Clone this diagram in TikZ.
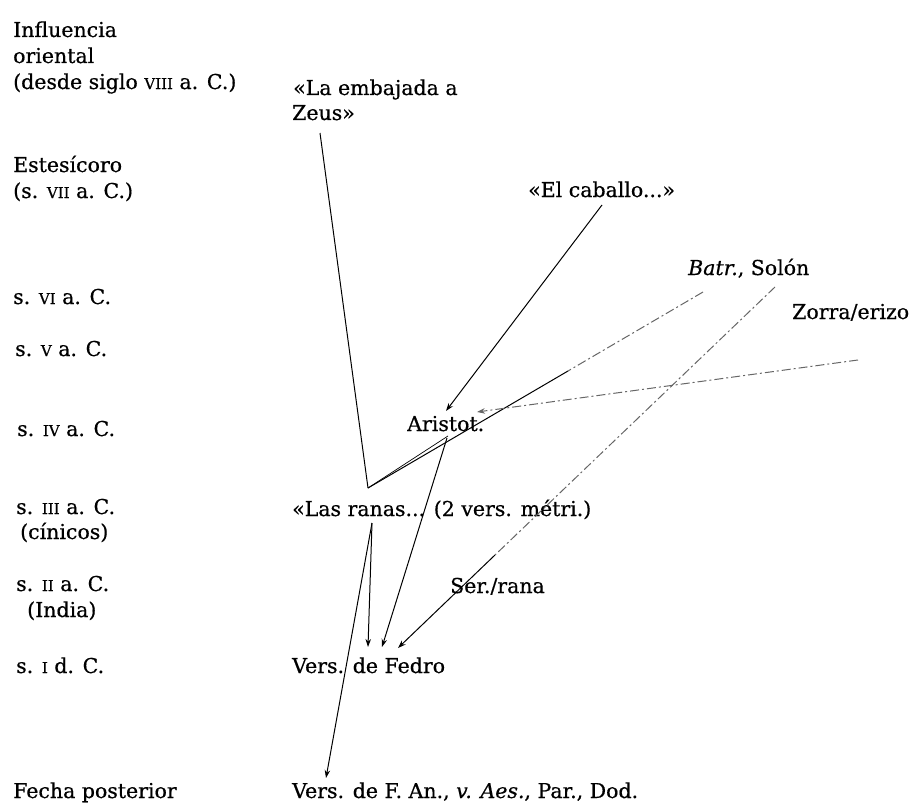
\documentclass[tikz,border=0pt]{standalone}
\usepackage{fontspec}
\setmainfont{DejaVu Serif}[UprightFeatures={FakeBold=0.6}, ItalicFeatures={FakeBold=0.6}]
\usetikzlibrary{arrows.meta}
\newcommand{\rmnum}[1]{{\fontsize{15}{15}\selectfont #1}}
\tikzset{
  txt/.style={anchor=base west, inner sep=0pt, font=\fontsize{20.5}{25}\selectfont},
  conn/.style={line width=1pt, black},
  arr/.style={conn, -{Stealth[length=8pt,width=5.5pt]}},
  dsh/.style={line width=1pt, black!60, dash pattern=on 9pt off 3pt on 2pt off 3pt},
}
\begin{document}
\begin{tikzpicture}[x=1pt,y=-1pt]
\useasboundingbox (0,0) rectangle (922,808);
% left column
\node[txt] (l1) at (13,37) {Influencia};
\node[txt] (l2) at (13,63) {oriental};
\node[txt] (l3) at (13,89) {(desde siglo \rmnum{VIII} a. C.)};
\node[txt] (l4) at (13,172) {Estesícoro};
\node[txt] (l5) at (13,198) {(s. \rmnum{VII} a. C.)};
\node[txt] (l6) at (13,304) {s. \rmnum{VI} a. C.};
\node[txt] (l7) at (15,356) {s. \rmnum{V} a. C.};
\node[txt] (l8) at (17,436) {s. \rmnum{IV} a. C.};
\node[txt] (l9) at (16,514) {s. \rmnum{III} a. C.};
\node[txt] (l10) at (20,539) {(cínicos)};
\node[txt] (l11) at (16,591) {s. \rmnum{II} a. C.};
\node[txt] (l12) at (27,617) {(India)};
\node[txt] (l13) at (16,673) {s. \rmnum{I} d. C.};
\node[txt] (l14) at (13,798) {Fecha posterior};
% right column
\node[txt] (emb) at (293,95) {«La embajada a};
\node[txt] (zeus) at (292,120) {Zeus»};
\node[txt] (cab) at (528,197) {«El caballo...»};
\node[txt] (batr) at (688,275) {\textit{Batr.}, Solón};
\node[txt] (zor) at (792,319) {Zorra/erizo};
\node[txt] (ari) at (407,431) {Aristot.};
\node[txt] (ran) at (292,516) {«Las ranas... (2 vers. métri.)};
\node[txt] (ser) at (450,593) {Ser./rana};
\node[txt] (fed) at (292,673) {Vers. de Fedro};
\node[txt] (ann) at (292,798) {Vers. de F. An., \textit{v. Aes.}, Par., Dod.};
% connector points
\coordinate (zeusS) at (320,133);
\coordinate (v) at (368,488);
\coordinate (batrS) at (703,292);
\coordinate (batrM) at (568,371);
\coordinate (ariS) at (448,436);
\coordinate (ariS2) at (447,438);
\coordinate (cabS) at (602,205);
\coordinate (ariN1) at (446,411);
\coordinate (zorW) at (858,360);
\coordinate (ariN2) at (477,412);
\coordinate (solS) at (775,287);
\coordinate (solM) at (495,555);
\coordinate (ranS) at (372,523);
\coordinate (fedN1) at (368,647);
\coordinate (fedN2) at (382,647);
\coordinate (fedN3) at (398,648);
\coordinate (annN) at (326,778);
% connectors
\draw[conn] (zeusS) -- (v);
\draw[dsh] (batrS) -- (batrM);
\draw[conn] (batrM) -- (v);
\draw[conn, line width=0.7pt] (ariS) -- (v);
\draw[arr] (cabS) -- (ariN1);
\draw[dsh, -{Stealth[length=8pt,width=5.5pt]}] (zorW) -- (ariN2);
\draw[dsh] (solS) -- (solM);
\draw[arr] (solM) -- (fedN3);
\draw[arr] (ariS2) -- (fedN2);
\draw[arr] (ranS) -- (fedN1);
\draw[arr] (ranS) -- (annN);
\end{tikzpicture}
\end{document}
